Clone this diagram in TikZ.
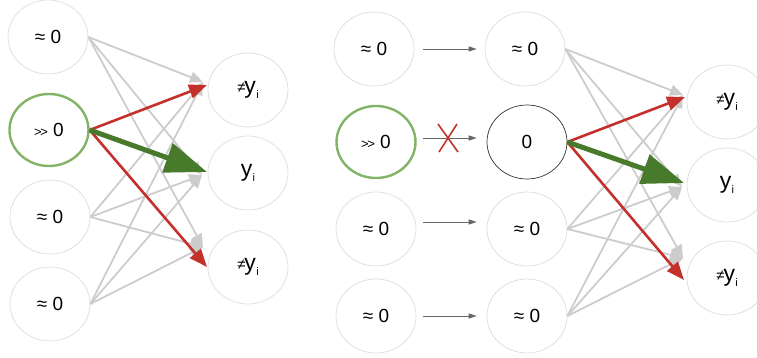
\documentclass[tikz,border=0pt]{standalone}
\usepackage{fontspec}
\setmainfont{Liberation Sans}
\usetikzlibrary{shapes.geometric,arrows.meta}
\definecolor{nodegray}{HTML}{DCDCDC}
\definecolor{edgegray}{HTML}{CCCCCC}
\definecolor{smallgray}{HTML}{666666}
\definecolor{lightgreen}{HTML}{82B366}
\definecolor{darkgreen}{HTML}{487A2C}
\definecolor{myred}{HTML}{C4302A}
\newcommand{\myyi}{{\fontsize{23}{23}\selectfont y}\kern0.3pt\raisebox{-4.5pt}{\fontsize{11}{11}\selectfont i}}
\newcommand{\myneqy}{\raisebox{1.5pt}{\fontsize{15}{15}\selectfont ≠}\kern-1pt\myyi}
\newcommand{\myapprox}{≈ 0}
\newcommand{\mygg}{\raisebox{0.5pt}{\fontsize{13}{13}\selectfont >\kern-1.5pt>} 0}
\begin{document}
\begin{tikzpicture}[x=1pt,y=-1pt,
  unit/.style={ellipse,draw=nodegray,line width=0.7pt,fill=white,minimum width=80pt,minimum height=74pt,inner sep=0pt,font=\fontsize{19}{19}\selectfont},
  active/.style={unit,draw=lightgreen,line width=2.4pt,minimum width=79pt,minimum height=72pt},
  dead/.style={unit,draw=black!80,line width=0.7pt},
  grayedge/.style={draw=edgegray,line width=1.8pt,-{Triangle[length=13pt,width=11pt]}},
  rededge/.style={draw=myred,line width=2.6pt,-{Triangle[length=18pt,width=14pt]}},
  greenedge/.style={draw=darkgreen,line width=5pt,-{Triangle[length=42pt,width=30pt]}},
  smalledge/.style={draw=smallgray,line width=0.8pt,-{Triangle[length=8pt,width=5pt]}},
  cross/.style={draw=myred,line width=1.6pt}
]
\useasboundingbox (0,0) rectangle (757,358);

% ---------- left network ----------
\node[unit]   (L1) at (48,37)  {\myapprox};
\node[active] (L2) at (49,130) {\mygg};
\node[unit]   (L3) at (50,217) {\myapprox};
\node[unit]   (L4) at (50,304) {\myapprox};
\node[unit]   (O1) at (248,90)  {\myneqy};
\node[unit]   (O2) at (248,173) {\myyi};
\node[unit]   (O3) at (248,267) {\myneqy};

\coordinate (lg1) at (203,82);
\coordinate (lg2) at (202,175);
\coordinate (lg3) at (203,247);
\coordinate (lr1) at (207,85);
\coordinate (lgr) at (207,172);
\coordinate (lr3) at (207,267);

\foreach \s in {L1,L3,L4}{
  \foreach \t in {lg1,lg2,lg3}{
    \draw[grayedge] (\s.east) -- (\t);
  }
}
\draw[rededge] (L2.east) -- (lr1);
\draw[rededge] (L2.east) -- (lr3);
\draw[greenedge] (L2.east) -- (lgr);

% ---------- right network ----------
\node[unit]   (A1) at (374,49)  {\myapprox};
\node[active] (A2) at (376,142) {\mygg};
\node[unit]   (A3) at (376,229) {\myapprox};
\node[unit]   (A4) at (376,316) {\myapprox};
\node[unit]   (B1) at (525,49)  {\myapprox};
\node[dead]   (B2) at (527,142) {0};
\node[unit]   (B3) at (527,229) {\myapprox};
\node[unit]   (B4) at (527,316) {\myapprox};
\node[unit]   (C1) at (727,102) {\myneqy};
\node[unit]   (C2) at (727,185) {\myyi};
\node[unit]   (C3) at (727,278) {\myneqy};

\draw[smalledge] ([xshift=9pt]A1.east) -- ([xshift=-8pt]B1.west);
\draw[smalledge] ([xshift=6pt,yshift=4pt]A2.east) -- ([xshift=-10pt,yshift=4pt]B2.west);
\draw[smalledge] ([xshift=7pt,yshift=7pt]A3.east) -- ([xshift=-10pt,yshift=7pt]B3.west);
\draw[smalledge] ([xshift=7pt]A4.east) -- ([xshift=-10pt]B4.west);
\coordinate (x1) at (438,124);
\coordinate (x2) at (458,152);
\coordinate (x3) at (457,124);
\coordinate (x4) at (439,152);
\draw[cross] (x1) -- (x2);
\draw[cross] (x3) -- (x4);

\coordinate (rg1) at (683,95);
\coordinate (rg2) at (682,187);
\coordinate (rg3) at (683,258);
\coordinate (rr1) at (685,97);
\coordinate (rgr) at (684,183);
\coordinate (rr3) at (684,280);

\foreach \s in {B1,B3,B4}{
  \foreach \t in {rg1,rg2,rg3}{
    \draw[grayedge] (\s.east) -- (\t);
  }
}
\draw[rededge] (B2.east) -- (rr1);
\draw[rededge] (B2.east) -- (rr3);
\draw[greenedge] (B2.east) -- (rgr);
\end{tikzpicture}
\end{document}
